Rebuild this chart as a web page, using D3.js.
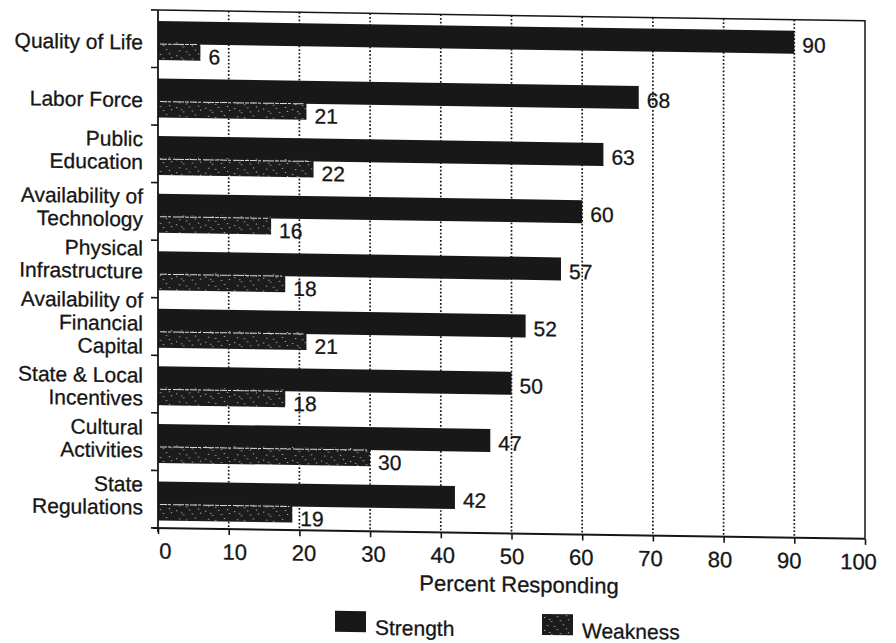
<!DOCTYPE html>
<html>
<head>
<meta charset="utf-8">
<script src="https://cdn.jsdelivr.net/npm/d3@7"></script>
<style>
  html, body { margin: 0; padding: 0; background: #fff; }
  svg text { font-family: "Liberation Sans", Arial, Helvetica, sans-serif; fill: #161616; stroke: #161616; stroke-width: 0.3; }
</style>
</head>
<body>
<svg id="chart" width="896" height="643"></svg>
<script>
// Survey: factors rated as a strength or a weakness (percent responding)
const categories = [
  "Quality of Life",
  "Labor Force",
  "Public\nEducation",
  "Availability of\nTechnology",
  "Physical\nInfrastructure",
  "Availability of\nFinancial\nCapital",
  "State & Local\nIncentives",
  "Cultural\nActivities",
  "State\nRegulations"
];
const strengthValues = [90, 68, 63, 60, 57, 52, 50, 47, 42];
const weaknessValues = [6, 21, 22, 16, 18, 21, 18, 30, 19];
const xTickValues = [0, 10, 20, 30, 40, 50, 60, 70, 80, 90, 100];
const seriesNames = ["Strength", "Weakness"];
const axisTitle = "Percent Responding";

const ink = "#161616";
const svg = d3.select("#chart");

// speckled fill used for the weakness bars
const defs = svg.append("defs");
const pat = defs.append("pattern")
  .attr("id", "speckle")
  .attr("patternUnits", "userSpaceOnUse")
  .attr("width", 29).attr("height", 13);
pat.append("rect").attr("width", 29).attr("height", 13).attr("fill", "#1c1c1c");
const specks = [[2,3],[9,7],[15,2],[21,10],[26,5],[5,11],[12,12],[18,6],[24,1],[7,5]];
pat.selectAll("rect.s").data(specks).join("rect")
  .attr("class", "s")
  .attr("x", d => d[0]).attr("y", d => d[1])
  .attr("width", 1.2).attr("height", 1)
  .attr("fill", "#bdbdbd");

const plotLeft = 158, plotRight = 865, plotTop = 10, plotBottom = 528;

// the page is printed slightly askew: right side sits lower
const g = svg.append("g")
  .attr("transform", `translate(${plotLeft},0) skewY(0.88) translate(${-plotLeft},0)`);

const x = d3.scaleLinear().domain([0, 100]).range([plotLeft, plotRight]);
const y = d3.scaleBand().domain(categories).range([plotTop, plotBottom]).padding(0);
const bw = y.bandwidth();

// dotted gridlines
g.append("g").selectAll("line")
  .data(xTickValues.filter(v => v > 0 && v < 100))
  .join("line")
  .attr("x1", d => x(d)).attr("x2", d => x(d))
  .attr("y1", plotTop).attr("y2", plotBottom)
  .attr("stroke", ink)
  .attr("stroke-width", 1.7)
  .attr("stroke-dasharray", "1.7 2");

// frame: top and right borders
g.append("path")
  .attr("d", `M${plotLeft},${plotTop}H${plotRight}V${plotBottom}`)
  .attr("fill", "none").attr("stroke", ink).attr("stroke-width", 1.5);

// strength bars
g.append("g").selectAll("rect")
  .data(categories)
  .join("rect")
  .attr("x", x(0))
  .attr("y", d => y(d) + 11)
  .attr("width", (d, i) => x(strengthValues[i]) - x(0))
  .attr("height", 23)
  .attr("fill", "#181818");

// weakness bars
const wk = g.append("g").selectAll("g")
  .data(categories)
  .join("g");
wk.append("rect")
  .attr("x", x(0))
  .attr("y", d => y(d) + 32)
  .attr("width", (d, i) => x(weaknessValues[i]) - x(0))
  .attr("height", 18)
  .attr("fill", "url(#speckle)");
wk.append("line")
  .attr("x1", x(0) + 2)
  .attr("x2", (d, i) => x(weaknessValues[i]) - 3)
  .attr("y1", d => y(d) + 34).attr("y2", d => y(d) + 34)
  .attr("stroke", "#d8d8d8").attr("stroke-width", 1)
  .attr("stroke-dasharray", "7 1 3 2 11 1 4 1");

// value labels
const valueFont = 21;
g.append("g").selectAll("text")
  .data(categories)
  .join("text")
  .attr("x", (d, i) => x(strengthValues[i]) + 8)
  .attr("y", d => y(d) + 25)
  .attr("dominant-baseline", "central")
  .attr("font-size", valueFont)
  .text((d, i) => strengthValues[i]);
g.append("g").selectAll("text")
  .data(categories)
  .join("text")
  .attr("x", (d, i) => x(weaknessValues[i]) + 8)
  .attr("y", d => y(d) + 46)
  .attr("dominant-baseline", "central")
  .attr("font-size", valueFont)
  .text((d, i) => weaknessValues[i]);

// left axis: line, band-edge ticks and category labels
g.append("line")
  .attr("x1", plotLeft).attr("x2", plotLeft)
  .attr("y1", plotTop).attr("y2", plotBottom + 4)
  .attr("stroke", ink).attr("stroke-width", 1.8);
const edges = categories.map(c => y(c)).concat([plotBottom]);
g.append("g").selectAll("line")
  .data(edges)
  .join("line")
  .attr("x1", plotLeft - 7).attr("x2", plotLeft)
  .attr("y1", d => d).attr("y2", d => d)
  .attr("stroke", ink).attr("stroke-width", 1.6);

// category label blocks: centred on the band, then nudged apart where tall
// neighbouring blocks would crowd each other
const lineH = 23, minGap = 29;
const lineShift = { 1: 3, 2: -4, 3: -3 };
const blocks = categories.map(c => {
  const lines = c.split("\n");
  return { key: c, lines, half: (lines.length - 1) * lineH / 2,
           cy: y(c) + bw / 2 + lineShift[lines.length] };
});
for (let it = 0; it < 60; it++) {
  for (let i = 0; i < blocks.length - 1; i++) {
    const a = blocks[i], b = blocks[i + 1];
    const gap = (b.cy - b.half) - (a.cy + a.half);
    if (gap < minGap) {
      const d = (minGap - gap) / 2;
      a.cy -= d; b.cy += d;
    }
  }
}
const catLabels = g.append("g").selectAll("text")
  .data(blocks)
  .join("text")
  .attr("font-size", 21)
  .attr("text-anchor", "end")
  .attr("dominant-baseline", "central");
catLabels.each(function (b) {
  d3.select(this).selectAll("tspan")
    .data(b.lines)
    .join("tspan")
    .attr("x", plotLeft - 15)
    .attr("y", (t, k) => b.cy - b.half + k * lineH)
    .text(t => t);
});

// bottom axis
const xAxis = d3.axisBottom(x).tickValues(xTickValues).tickSize(6).tickSizeOuter(0);
const ax = g.append("g")
  .attr("transform", `translate(0,${plotBottom})`)
  .call(xAxis);
ax.select(".domain").remove();
ax.selectAll(".tick line").attr("stroke", ink).attr("stroke-width", 1.6);
ax.selectAll(".tick text")
  .attr("font-size", 22)
  .attr("fill", ink)
  .attr("y", 23).attr("dy", null)
  .attr("dx", d => 7 - d * 0.14)
  .attr("dominant-baseline", "central");
ax.attr("font-family", null).attr("font-size", null);
g.append("line")
  .attr("x1", plotLeft - 5).attr("x2", plotRight)
  .attr("y1", plotBottom).attr("y2", plotBottom)
  .attr("stroke", ink).attr("stroke-width", 2);

// axis title
g.append("text")
  .attr("x", 519).attr("y", 579)
  .attr("text-anchor", "middle")
  .attr("dominant-baseline", "central")
  .attr("font-size", 22)
  .text(axisTitle);

// legend
const legendX = [335, 542];
const leg = g.append("g").selectAll("g")
  .data(seriesNames)
  .join("g")
  .attr("transform", (d, i) => `translate(${legendX[i]},608)`);
leg.append("rect")
  .attr("width", 31).attr("height", 21)
  .attr("fill", (d, i) => i === 0 ? "#181818" : "url(#speckle)");
leg.append("text")
  .attr("x", 40).attr("y", 16)
  .attr("dominant-baseline", "central")
  .attr("font-size", 21)
  .text(d => d);
</script>
</body>
</html>
